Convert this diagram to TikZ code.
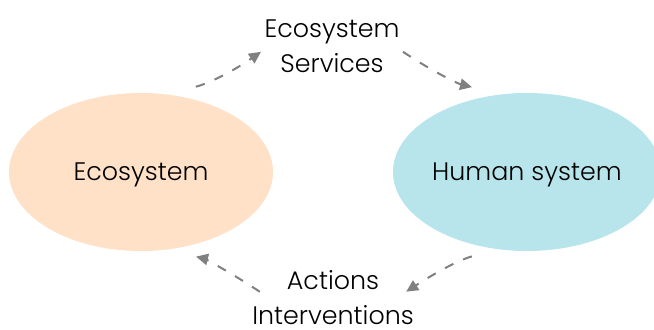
\documentclass[tikz,border=0pt]{standalone}
\usepackage{fontspec}
\setmainfont{Poppins}[UprightFont=* Light]
\usetikzlibrary{shapes.geometric}
\usetikzlibrary{arrows.meta}
\usepackage{xcolor}
\definecolor{ecoFill}{RGB}{254,225,198}
\definecolor{humanFill}{RGB}{183,229,235}
\definecolor{flowGray}{RGB}{128,128,128}

\begin{document}
\begin{tikzpicture}[x=0.75pt,y=0.75pt,yscale=-1,xscale=1,
  system/.style={ellipse, minimum width=198pt, minimum height=118.5pt, inner sep=0pt, outer sep=0pt, text height=13.3pt, text depth=0pt, font=\fontsize{19}{24}\selectfont},
  flowtext/.style={align=center, inner sep=0pt, font=\fontsize{19}{26.25}\selectfont},
  flow/.style={draw=flowGray, line width=1.5pt, dash pattern=on 7pt off 8pt, -{Triangle[length=9pt,width=8.5pt]}}]
\useasboundingbox (0,0) rectangle (654,329);

%Shape: Ellipse [eco]
\node [system, fill=ecoFill] (eco) at (141,172) {Ecosystem};
%Shape: Ellipse [human]
\node [system, fill=humanFill] (human) at (527,172) {Human system};

% Text Node
\node [flowtext] (services) at (332,46) {Ecosystem\\Services};
% Text Node
\node [flowtext] (actions) at (333,298) {Actions\\Interventions};

%Dashed Arrows
\draw [flow, shorten <=23pt, shorten >=3pt] (eco.72) to [bend left=10] (services.183);
\draw [flow, shorten <=3pt, shorten >=23pt] (services.-3) to [bend left=10] (human.108);
\draw [flow, shorten <=23pt, shorten >=-7pt] (human.252) to [bend left=10] (actions.8);
\draw [flow, shorten <=-7pt, shorten >=23pt] (actions.172) to [bend left=10] (eco.288);

\end{tikzpicture}
\end{document}
